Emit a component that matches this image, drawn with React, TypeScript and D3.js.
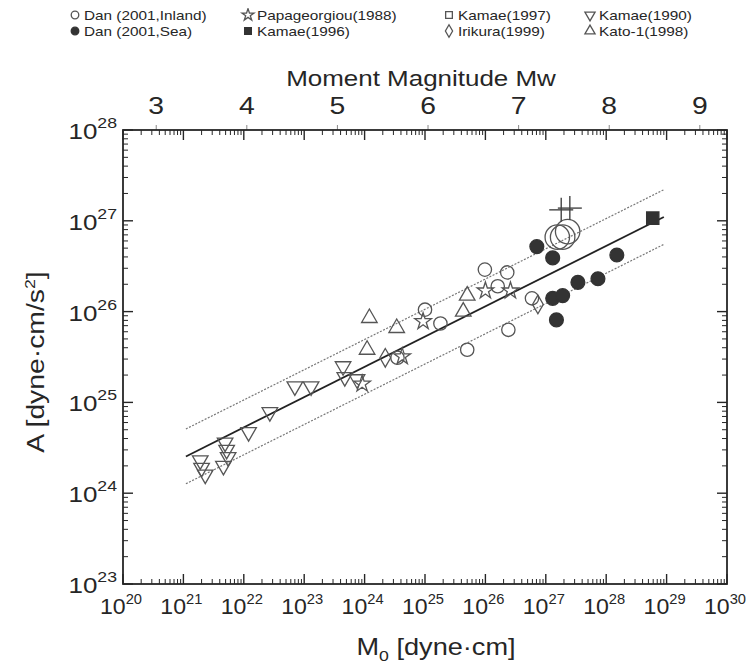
import React from 'react';
import * as d3 from 'd3';

// [M0 (dyne·cm), A (dyne·cm/s^2)]
const danInland = [
  [1.0e25, 1.05e26], [1.8e25, 7.4e25], [9.8e25, 2.9e26], [2.3e26, 2.7e26],
  [1.6e26, 1.9e26], [2.4e26, 6.3e25], [5.0e25, 3.8e25], [3.5e24, 3.1e25],
  [5.9e26, 1.4e26],
];
const danInlandLarge = [[1.55e27, 6.6e26], [1.9e27, 6.6e26], [2.3e27, 7.6e26]];
const crosses = [[1.8e27, 1.32e27], [2.5e27, 1.38e27]];
const danSea = [
  [7.1e26, 5.2e26], [1.3e27, 3.9e26], [1.5e28, 4.2e26], [3.4e27, 2.1e26],
  [7.3e27, 2.3e26], [1.3e27, 1.4e26], [1.9e27, 1.5e26], [1.5e27, 8.1e25],
];
const kamae1996 = [[5.9e28, 1.07e27]];
const papageorgiou = [
  [9.3e24, 7.8e25], [1.0e26, 1.7e26], [2.6e26, 1.7e26], [4.2e24, 3.2e25], [9.1e23, 1.6e25],
];
const kamae1997: number[][] = [];
const irikura = [[2.2e24, 3.1e25], [7.4e26, 1.2e26]];
const kamae1990 = [
  [1.9e21, 2.3e24], [2.0e21, 1.9e24], [2.3e21, 1.6e24], [4.9e21, 3.6e24],
  [5.2e21, 3.0e24], [4.6e21, 2.0e24], [5.5e21, 2.5e24], [1.2e22, 4.7e24],
  [2.7e22, 7.8e24], [7.0e22, 1.5e25], [1.3e23, 1.5e25], [4.4e23, 2.5e25],
  [4.7e23, 1.9e25], [7.5e23, 1.8e25],
];
const kato1 = [
  [1.2e24, 8.5e25], [3.4e24, 6.6e25], [1.1e24, 3.8e25], [5.0e25, 1.5e26], [4.3e25, 1.0e26],
];

// regression line and factor-of-2 bounds
const fitM0 = [1.1e21, 9e28];
const fitA = [2.54e24, 1.1e27];
const upperA = [5.1e24, 2.2e27];
const lowerA = [1.27e24, 5.5e26];

const xDecades = d3.range(20, 31);
const yDecades = d3.range(23, 29);
const mwTicks = [3, 4, 5, 6, 7, 8, 9];

const legendRows = [
  [
    { label: 'Dan (2001,Inland)', sym: 'circle', fill: false },
    { label: 'Papageorgiou(1988)', sym: 'star', fill: false },
    { label: 'Kamae(1997)', sym: 'square', fill: false },
    { label: 'Kamae(1990)', sym: 'down', fill: false },
  ],
  [
    { label: 'Dan (2001,Sea)', sym: 'circle', fill: true },
    { label: 'Kamae(1996)', sym: 'square', fill: true },
    { label: 'Irikura(1999)', sym: 'diamond', fill: false },
    { label: 'Kato-1(1998)', sym: 'up', fill: false },
  ],
];
const legendX = [75, 248, 449, 590];

const INK = '#262626';
const FONT = '"Liberation Sans", Arial, sans-serif';

const symType = (s: string) =>
  s === 'circle' ? d3.symbolCircle
    : s === 'star' ? d3.symbolStar
    : s === 'square' ? d3.symbolSquare
    : s === 'diamond' ? d3.symbolDiamond
    : d3.symbolTriangle;

const symPath = (s: string, size: number) => d3.symbol().type(symType(s)).size(size)() as string;

const Sym = ({ x, y, sym, size, fill }: any) => (
  <path
    d={symPath(sym, size)}
    transform={`translate(${x},${y})${sym === 'down' ? ' rotate(180)' : ''}`}
    fill={fill ? '#333' : 'none'}
    stroke={fill ? '#333' : '#555'}
    strokeWidth={1.3}
  />
);

const SText = ({ x, y, children, anchor = 'start', size, rotate = 0, sx = 1.18 }: any) => (
  <g transform={`translate(${x},${y}) rotate(${rotate}) scale(${sx},1)`}>
    <text textAnchor={anchor} fontSize={size} fontFamily={FONT} fill={INK}>
      {children}
    </text>
  </g>
);

export default function App() {
  const width = 755;
  const height = 670;
  const margin = { left: 123, right: 28, top: 130, bottom: 86 };
  const x = d3.scaleLog().domain([1e20, 1e30]).range([margin.left, width - margin.right]);
  const y = d3.scaleLog().domain([1e23, 1e28]).range([height - margin.bottom, margin.top]);
  const [x0, x1] = x.range();
  const [y0, y1] = y.range();

  const mwToM0 = (mw: number) => Math.pow(10, 1.5 * (mw + 10.7));

  const minorX: number[] = [];
  xDecades.slice(0, -1).forEach((d) => d3.range(2, 10).forEach((k) => minorX.push(k * Math.pow(10, d))));
  const minorY: number[] = [];
  yDecades.slice(0, -1).forEach((d) => d3.range(2, 10).forEach((k) => minorY.push(k * Math.pow(10, d))));

  const line = d3.line<number[]>().x((d) => x(d[0])).y((d) => y(d[1]));
  const pts = (a: number[]) => fitM0.map((m, i) => [m, a[i]]);

  const series = [
    { data: danInland, sym: 'circle', fill: false, size: 140 },
    { data: danInlandLarge, sym: 'circle', fill: false, size: 470 },
    { data: danSea, sym: 'circle', fill: true, size: 150 },
    { data: kamae1996, sym: 'square', fill: true, size: 150 },
    { data: papageorgiou, sym: 'star', fill: false, size: 85 },
    { data: kamae1997, sym: 'square', fill: false, size: 120 },
    { data: irikura, sym: 'diamond', fill: false, size: 100 },
    { data: kamae1990, sym: 'down', fill: false, size: 105 },
    { data: kato1, sym: 'up', fill: false, size: 105 },
  ];

  return (
    <svg width={width} height={height} style={{ display: 'block', margin: -8 }}>
      <rect width={width} height={height} fill="#fff" />

      {/* legend */}
      {legendRows.map((row, r) =>
        row.map((it, c) => (
          <g key={`${r}-${c}`}>
            <Sym x={legendX[c]} y={r === 0 ? 15 : 31} sym={it.sym} size={45} fill={it.fill} />
            <SText x={legendX[c] + 9} y={r === 0 ? 20 : 36} size={13}>{it.label}</SText>
          </g>
        ))
      )}

      {/* top magnitude axis */}
      <SText x={(x0 + x1) / 2 - 4} y={86} size={22} anchor="middle">Moment Magnitude Mw</SText>
      {mwTicks.map((m) => (
        <g key={m}>
          <line x1={x(mwToM0(m))} x2={x(mwToM0(m))} y1={y1} y2={y1 - 5} stroke="#888" strokeWidth={1} />
          <SText x={x(mwToM0(m))} y={114} size={24} anchor="middle">{m}</SText>
        </g>
      ))}

      {/* fit lines */}
      <path d={line(pts(upperA)) as string} fill="none" stroke="#777" strokeWidth={1.2} strokeDasharray="2,1.5" />
      <path d={line(pts(lowerA)) as string} fill="none" stroke="#777" strokeWidth={1.2} strokeDasharray="2,1.5" />
      <path d={line(pts(fitA)) as string} fill="none" stroke="#222" strokeWidth={1.8} />

      {/* markers */}
      {series.map((s, i) =>
        s.data.map((d, j) => (
          <Sym key={`${i}-${j}`} x={x(d[0])} y={y(d[1])} sym={s.sym} size={s.size} fill={s.fill} />
        ))
      )}
      {crosses.map((d, j) => (
        <g key={j} transform={`translate(${x(d[0])},${y(d[1])})`} stroke="#444" strokeWidth={1.4}>
          <line x1={-12} x2={12} y1={0} y2={0} />
          <line x1={0} x2={0} y1={-12} y2={12} />
        </g>
      ))}

      {/* ticks */}
      <g stroke={INK}>
        {xDecades.map((d) => {
          const px = x(Math.pow(10, d));
          return (
            <g key={d} strokeWidth={1.4}>
              <line x1={px} x2={px} y1={y0} y2={y0 - 10} />
              <line x1={px} x2={px} y1={y1} y2={y1 + 10} />
            </g>
          );
        })}
        {minorX.map((v, i) => (
          <g key={i} strokeWidth={1}>
            <line x1={x(v)} x2={x(v)} y1={y0} y2={y0 - 5} />
            <line x1={x(v)} x2={x(v)} y1={y1} y2={y1 + 5} />
          </g>
        ))}
        {yDecades.map((d) => {
          const py = y(Math.pow(10, d));
          return (
            <g key={d} strokeWidth={1.4}>
              <line x1={x0} x2={x0 + 10} y1={py} y2={py} />
              <line x1={x1} x2={x1 - 10} y1={py} y2={py} />
            </g>
          );
        })}
        {minorY.map((v, i) => (
          <g key={i} strokeWidth={1}>
            <line x1={x0} x2={x0 + 5} y1={y(v)} y2={y(v)} />
            <line x1={x1} x2={x1 - 5} y1={y(v)} y2={y(v)} />
          </g>
        ))}
      </g>
      <rect x={x0} y={y1} width={x1 - x0} height={y0 - y1} fill="none" stroke={INK} strokeWidth={1.8} />

      {/* x tick labels */}
      {xDecades.map((d) => (
        <SText key={d} x={x(Math.pow(10, d)) - 2} y={614} size={22} anchor="middle" sx={1.05}>
          10<tspan dy={-10} fontSize={14}>{d}</tspan>
        </SText>
      ))}
      {/* y tick labels */}
      {yDecades.map((d) => (
        <SText key={d} x={117} y={y(Math.pow(10, d)) + 9} size={22} anchor="end">
          10<tspan dy={-11} fontSize={15}>{d}</tspan>
        </SText>
      ))}

      {/* axis titles */}
      <SText x={436} y={655} size={23} anchor="middle">
        M<tspan dy={6} fontSize={15}>0</tspan><tspan dy={-6}> [dyne·cm]</tspan>
      </SText>
      <SText x={44} y={362} size={24} anchor="middle" rotate={-90}>
        A [dyne·cm/s<tspan dy={-9} fontSize={15}>2</tspan><tspan dy={9}>]</tspan>
      </SText>
    </svg>
  );
}
